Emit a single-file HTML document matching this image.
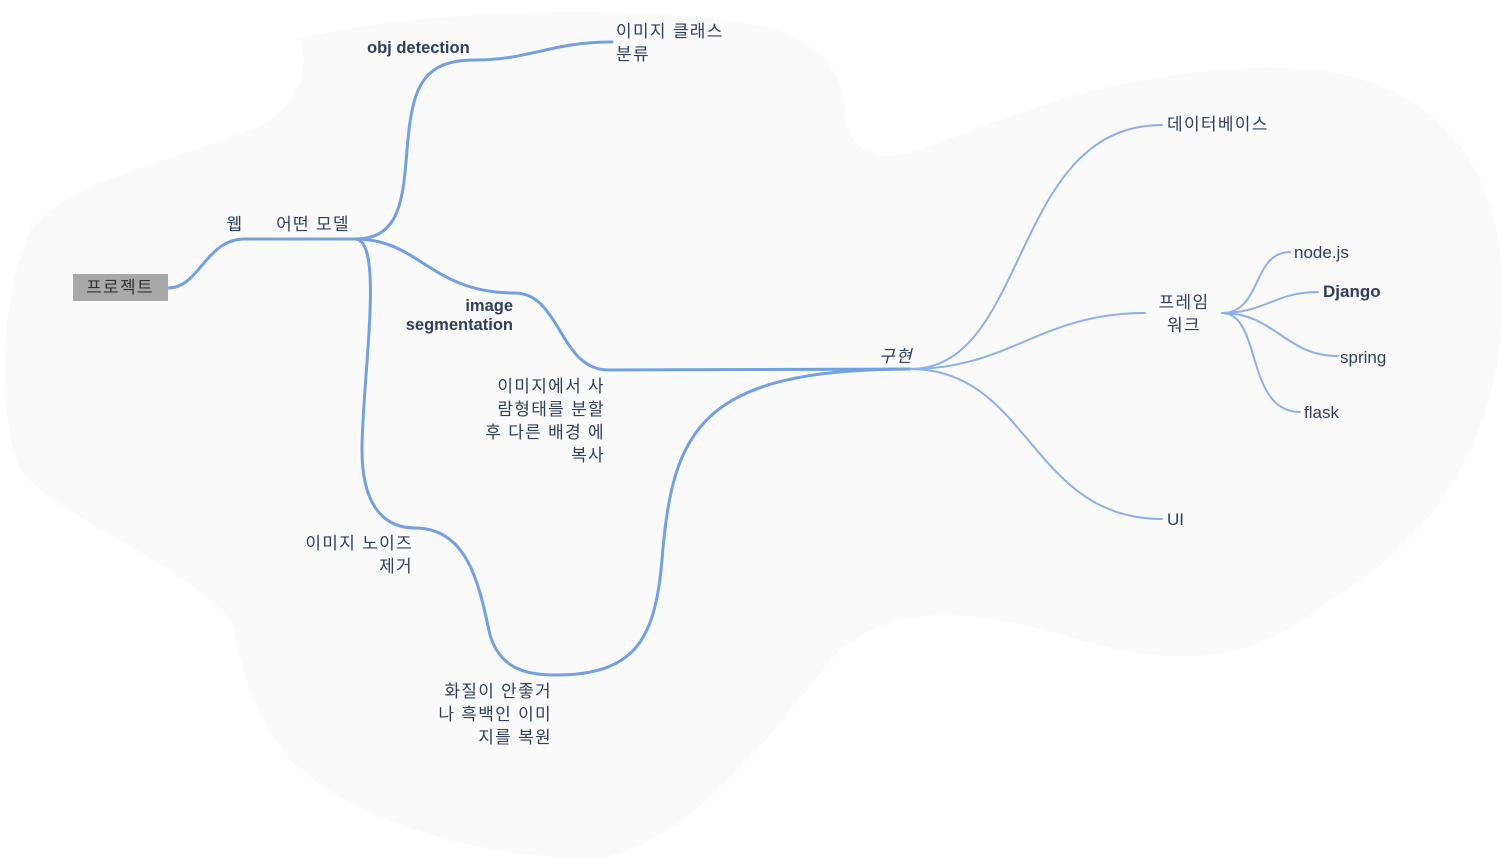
<!DOCTYPE html>
<html><head><meta charset="utf-8"><style>
html,body{margin:0;padding:0;background:#fff;}
svg text{font-family:"Liberation Sans","Noto Sans CJK KR",sans-serif;font-size:17px;fill:#2d3e5f;}
.k{letter-spacing:1.3px;}
</style></head><body>
<svg width="1506" height="860" viewBox="0 0 1506 860" xmlns="http://www.w3.org/2000/svg">
<path d="M300,38 C420,10 650,0 780,30 C840,55 845,90 845,120 C850,150 880,165 920,150 C1000,120 1100,75 1250,68 C1380,62 1480,110 1500,250 C1515,380 1470,520 1330,600 C1270,650 1200,675 1080,640 C980,610 900,600 840,650 C780,720 700,840 600,858 C480,860 350,820 290,760 C240,700 240,640 230,620 C180,560 60,520 20,470 C0,420 -5,320 30,230 C70,180 160,165 250,130 C300,110 310,70 300,38 Z" fill="#fafafa"/>
<g fill="none" stroke="#72a0e3" stroke-width="3" stroke-linecap="round">
<path d="M168,288 C200,288 205,239 245,239 L355,239"/>
<path d="M355,239 C400,239 403,200 407,150 C412,90 420,60 475,60 C530,60 550,42 612,42"/>
<path d="M355,239 C420,239 430,293 515,293 C560,293 560,370 608,370 L910,369"/>
<path d="M355,239 C385,239 362,380 362,450 C362,500 380,528 415,528 C470,528 480,590 490,635 C500,668 525,675 555,675 C635,675 655,640 662,560 C672,430 700,369 910,369"/>
</g>
<g fill="none" stroke="#8cb0ec" stroke-width="2" stroke-linecap="round">
<path d="M910,369 C1030,369 1010,125 1162,125"/>
<path d="M910,369 C1010,369 1040,313 1145,313"/>
<path d="M910,369 C1030,369 1030,519 1162,519"/>
<path d="M1222,313 C1262,313 1252,252 1290,252"/>
<path d="M1222,313 C1265,313 1275,292 1318,292"/>
<path d="M1222,313 C1275,313 1285,356 1338,356"/>
<path d="M1222,313 C1262,313 1245,412 1300,412"/>
</g>
<rect x="73" y="274" width="95" height="27" fill="#a8a8a8"/>
<text x="120" y="293" text-anchor="middle" class="k" style="fill:#333">프로젝트</text>
<text x="235" y="230" text-anchor="middle" class="k">웹</text>
<text x="313" y="230" text-anchor="middle" class="k">어떤 모델</text>
<text x="367" y="53" style="font-weight:bold;font-size:16.5px">obj detection</text>
<text x="616" y="37" class="k">이미지 클래스</text>
<text x="616" y="60" class="k">분류</text>
<text x="513" y="311" text-anchor="end" style="font-weight:bold;font-size:16.5px">image</text>
<text x="513" y="330" text-anchor="end" style="font-weight:bold;font-size:16.5px">segmentation</text>
<text x="605" y="392" text-anchor="end" class="k">이미지에서 사</text>
<text x="605" y="415" text-anchor="end" class="k">람형태를 분할</text>
<text x="605" y="438" text-anchor="end" class="k">후 다른 배경 에</text>
<text x="605" y="461" text-anchor="end" class="k">복사</text>
<text x="413" y="549" text-anchor="end" class="k">이미지 노이즈</text>
<text x="413" y="572" text-anchor="end" class="k">제거</text>
<text x="552" y="697" text-anchor="end" class="k">화질이 안좋거</text>
<text x="552" y="720" text-anchor="end" class="k">나 흑백인 이미</text>
<text x="552" y="743" text-anchor="end" class="k">지를 복원</text>
<text x="879" y="362" class="k" style="font-style:italic">구현</text>
<text x="1167" y="130" class="k">데이터베이스</text>
<text x="1184" y="308" text-anchor="middle" class="k">프레임</text>
<text x="1184" y="331" text-anchor="middle" class="k">워크</text>
<text x="1294" y="258">node.js</text>
<text x="1323" y="297" style="font-weight:bold">Django</text>
<text x="1340" y="363">spring</text>
<text x="1304" y="418">flask</text>
<text x="1167" y="525">UI</text>
</svg>
</body></html>
